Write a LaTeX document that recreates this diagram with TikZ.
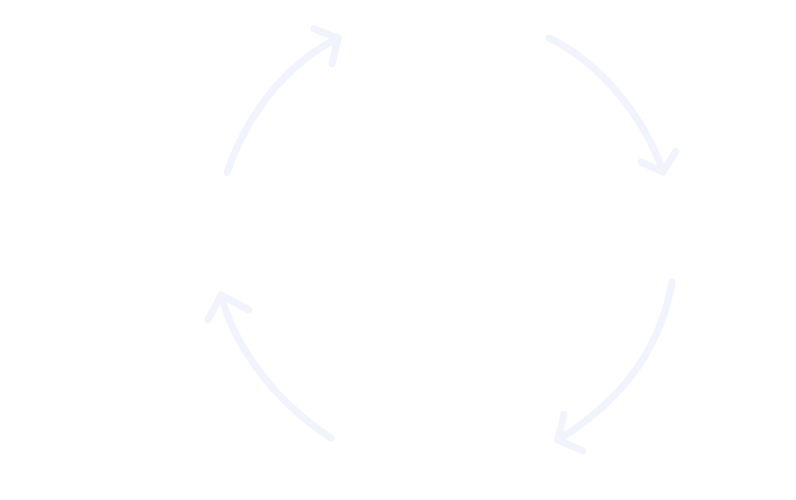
\documentclass[tikz,border=0pt]{standalone}
\begin{document}
\begin{tikzpicture}[x=1pt,y=-1pt]
\definecolor{faint}{RGB}{242,244,253}
\tikzset{cyc/.style={draw=faint,line width=7pt,line cap=round,line join=round}}
\useasboundingbox[fill=white] (0,0) rectangle (796,500);
% arrow 1 (top-left)
\coordinate (a1s) at (227,173); \coordinate (a1t) at (338,38);
\draw[cyc] (a1s) .. controls (248,110) and (290,62) .. (a1t);
\draw[cyc] (314,29) -- (a1t) -- (332,64);
% arrow 2 (top-right)
\coordinate (a2s) at (549,38); \coordinate (a2t) at (663,172);
\draw[cyc] (a2s) .. controls (600,62) and (645,118) .. (a2t);
\draw[cyc] (641,162) -- (a2t) -- (676,151);
% arrow 3 (bottom-right)
\coordinate (a3s) at (672,282); \coordinate (a3t) at (558,440);
\draw[cyc] (a3s) .. controls (660,350) and (622,400) .. (a3t);
\draw[cyc] (564,414) -- (a3t) -- (583,451);
% arrow 4 (bottom-left)
\coordinate (a4s) at (331,438); \coordinate (a4t) at (221,295);
\draw[cyc] (a4s) .. controls (280,405) and (236,352) .. (a4t);
\draw[cyc] (208,320) -- (a4t) -- (249,310);
\end{tikzpicture}
\end{document}
